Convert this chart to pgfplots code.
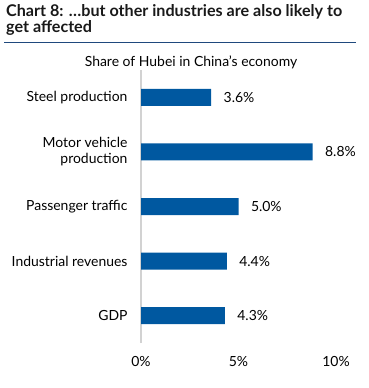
\documentclass[border=0pt]{standalone}
\usepackage{fontspec}
\setmainfont{Lato}
\usepackage{pgfplots}
\pgfplotsset{compat=1.18}
\definecolor{barblue}{RGB}{0,88,160}
\definecolor{rulenavy}{RGB}{31,73,125}
\definecolor{axisgray}{RGB}{210,210,210}
\begin{document}
\begin{tikzpicture}
\path[use as bounding box] (0,0) rectangle (369bp,388bp);
\node[anchor=base west, inner sep=0pt, font=\fontsize{16.2}{18}\selectfont\bfseries, text=black!90] at (6bp,371bp) {Chart 8: \dots but other industries are also likely to};
\node[anchor=base west, inner sep=0pt, font=\fontsize{16.2}{18}\selectfont\bfseries, text=black!90] at (6bp,355bp) {get affected};
\draw[rulenavy, line width=1pt] (4bp,345bp) -- (356bp,345bp);
\node[anchor=center, inner sep=0pt, font=\fontsize{14}{16}\selectfont] at (191bp,326bp) {Share of Hubei in China's economy};
\begin{axis}[
  at={(141bp,45bp)}, anchor=south west,
  scale only axis, width=195bp, height=273bp,
  xbar, bar width=17bp,
  xmin=0, xmax=10, ymin=-0.5, ymax=4.5,
  axis x line=none,
  axis y line*=left,
  y axis line style={axisgray, line width=1.5pt, -},
  xtick=\empty,
  ytick={0,1,2,3,4},
  yticklabels={GDP, Industrial revenues, Passenger traffic, {Motor vehicle\\production}, Steel production},
  yticklabel style={align=right, font=\fontsize{14}{16}\selectfont, xshift=-10bp},
  major tick length=0pt,
  nodes near coords={\pgfmathprintnumber[fixed, fixed zerofill, precision=1]{\pgfplotspointmeta}\%},
  nodes near coords style={anchor=west, xshift=9bp, font=\fontsize{14}{16}\selectfont},
  point meta=explicit,
  clip=false,
  /pgf/number format/assume math mode=true,
]
\addplot[fill=barblue, draw=none] coordinates {(4.3,0) [4.3] (4.4,1) [4.4] (5.0,2) [5.0] (8.8,3) [8.8] (3.6,4) [3.6]};
\foreach \t in {0,5,10} {
  \edef\temp{\noexpand\node[font=\noexpand\fontsize{14}{16}\noexpand\selectfont] at (axis cs:\t,-0.5) [yshift=-19bp] {\t\noexpand\%};}
  \temp
}
\end{axis}
\end{tikzpicture}
\end{document}
